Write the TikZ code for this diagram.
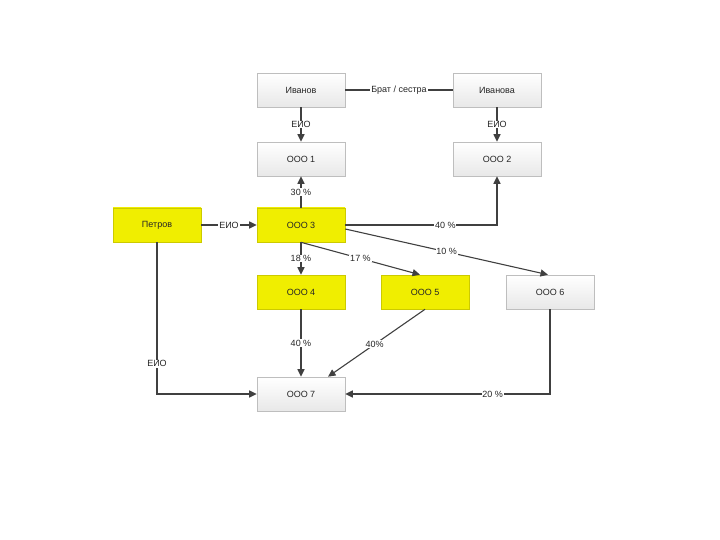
\documentclass[tikz,border=0pt]{standalone}
\usepackage{fontspec}
\setmainfont{Liberation Sans}
\usetikzlibrary{arrows.meta,shadows}
\definecolor{lineC}{RGB}{64,64,64}
\definecolor{yel}{RGB}{240,238,0}
\definecolor{boxB}{RGB}{190,190,190}
\tikzset{
  box/.style={draw=boxB, line width=0.6pt, minimum width=88pt, minimum height=34pt, inner sep=0pt,
    top color=white, bottom color=black!9, text=black!85, font=\fontsize{9}{10}\selectfont,
    drop shadow={opacity=0.25, shadow xshift=1.2pt, shadow yshift=-1.2pt}},
  ybox/.style={box, draw=yel!85!black, top color=yel, bottom color=yel},
  arr/.style={draw=lineC, line width=1.1pt, -{Triangle[length=7.5pt,width=7pt]}},
  ln/.style={draw=lineC, line width=1.1pt},
  lbl/.style={fill=white, inner sep=0.8pt, text=black!85, font=\fontsize{9}{10}\selectfont}
}
\begin{document}
\begin{tikzpicture}[x=1pt,y=-1pt]
\useasboundingbox (0,0) rectangle (720,540);
\node[box]  (ivanov)  at (301,90)  {Иванов};
\node[box]  (ivanova) at (497,90)  {Иванова};
\node[box]  (o1)      at (301,159) {ООО 1};
\node[box]  (o2)      at (497,159) {ООО 2};
\node[ybox] (petrov)  at (157,225) {Петров};
\node[ybox] (o3)      at (301,225) {ООО 3};
\node[ybox] (o4)      at (301,292) {ООО 4};
\node[ybox] (o5)      at (425,292) {ООО 5};
\node[box]  (o6)      at (550,292) {ООО 6};
\node[box]  (o7)      at (301,394) {ООО 7};

\draw[ln] (ivanov) -- node[lbl]{Брат / сестра} (ivanova);
\draw[arr] (ivanov) -- node[lbl]{ЕИО} (o1);
\draw[arr] (ivanova) -- node[lbl]{ЕИО} (o2);
\draw[arr] (o3) -- node[lbl]{30 \%} (o1);
\draw[arr] (petrov) -- node[lbl]{ЕИО} (o3);
\draw[arr] (o3.east) -| node[lbl, pos=0.33]{40 \%} (o2.south);
\draw[arr] ([yshift=-4pt]o3.east) -- node[lbl, pos=0.5]{10 \%} ([xshift=-2pt]o6.north);
\draw[arr] (o3.south) -- node[lbl, pos=0.5]{17 \%} ([xshift=-5pt]o5.north);
\draw[arr] (o3) -- node[lbl]{18 \%} (o4);
\draw[arr] (o4) -- node[lbl]{40 \%} (o7);
\draw[arr] (o5.south) -- node[lbl, pos=0.52]{40\%} ([xshift=27pt]o7.north);
\draw[arr] (petrov.south) |- node[lbl, pos=0.4]{ЕИО} (o7.west);
\draw[arr] (o6.south) |- node[lbl, pos=0.64]{20 \%} (o7.east);
\end{tikzpicture}
\end{document}
